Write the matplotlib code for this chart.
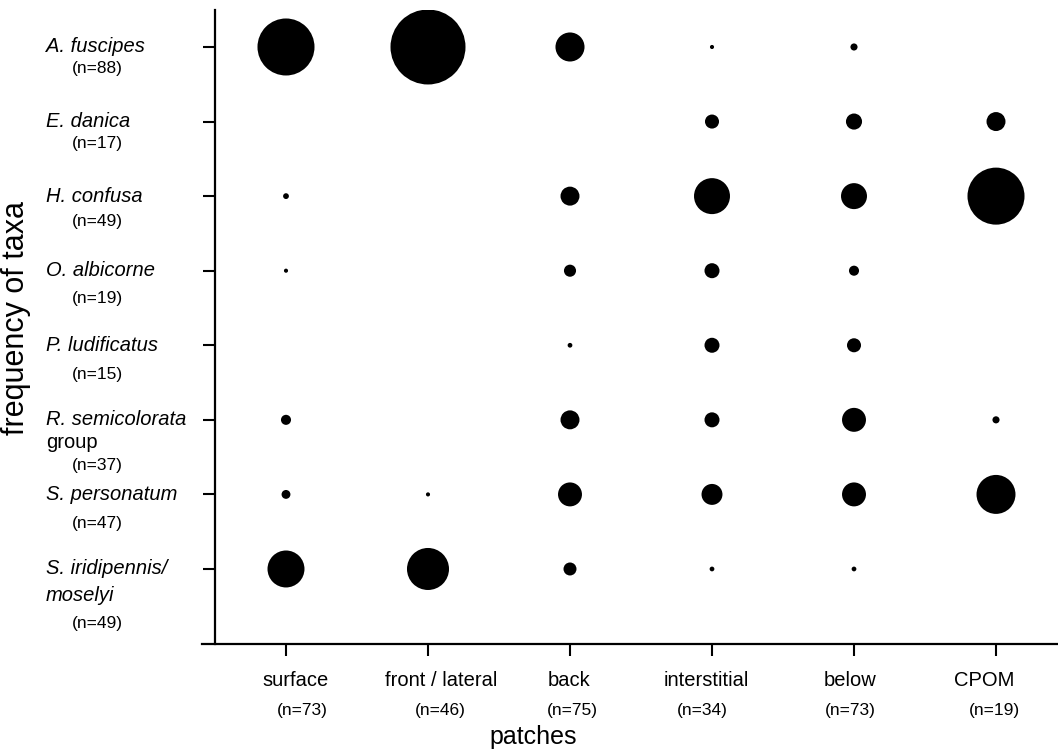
import numpy as np
import matplotlib
matplotlib.use("Agg")
import matplotlib.pyplot as plt
from matplotlib.transforms import blended_transform_factory, offset_copy

plt.rcParams['font.family'] = ['Liberation Sans', 'DejaVu Sans']

# patches (x) and taxa (y)
patches = ["surface", "front / lateral", "back", "interstitial", "below", "CPOM"]
patch_n = ["(n=73)", "(n=46)", "(n=75)", "(n=34)", "(n=73)", "(n=19)"]

taxa = [["A. fuscipes"], ["E. danica"], ["H. confusa"], ["O. albicorne"],
        ["P. ludificatus"], ["R. semicolorata", "group"], ["S. personatum"],
        ["S. iridipennis/", "moselyi"]]
taxa_italic = [[True], [True], [True], [True], [True], [True, False], [True], [True, True]]
taxa_n = ["(n=88)", "(n=17)", "(n=49)", "(n=19)", "(n=15)", "(n=37)", "(n=47)", "(n=49)"]

# relative frequency (bubble area), order: surface, front/lateral, back, interstitial, below, CPOM
a_fuscipes = [57.8, 100.0, 15.0, 0.3, 0.9, 0]
e_danica = [0, 0, 0, 3.5, 4.6, 6.4]
h_confusa = [0.6, 0, 6.4, 23.0, 12.0, 57.8]
o_albicorne = [0.3, 0, 2.6, 4.0, 1.8, 0]
p_ludificatus = [0, 0, 0.4, 4.0, 3.5, 0]
r_semicolorata = [1.8, 0, 6.4, 4.0, 10.2, 0.9]
s_personatum = [1.4, 0.3, 10.2, 7.8, 10.2, 27.0]
s_iridipennis = [24.3, 31.4, 3.0, 0.4, 0.4, 0]

freq = np.array([a_fuscipes, e_danica, h_confusa, o_albicorne, p_ludificatus,
                 r_semicolorata, s_personatum, s_iridipennis])

W, H = 1058, 753
fig = plt.figure(figsize=(W / 100, H / 100), dpi=100)
ax = fig.add_axes([202 / W, (H - 644) / H, (W - 202) / W, (644 - 10) / H])

xx, yy = np.meshgrid(np.arange(len(patches)), np.arange(len(taxa)))
mask = freq > 0
size_scale = 29.16  # pt^2 per unit
ax.scatter(xx[mask], yy[mask], s=freq[mask] * size_scale, c="black", linewidths=0)

ax.set_xlim(-0.5915, 5.4366)
ax.set_ylim(8.006, -0.496)

for s in ["top", "right"]:
    ax.spines[s].set_visible(False)
ax.spines["left"].set_position(("axes", 13 / 856))
ax.spines["left"].set_linewidth(1.6)
ax.spines["bottom"].set_linewidth(1.6)
ax.set_xticks(np.arange(len(patches)))
ax.set_yticks(np.arange(len(taxa)))
ax.set_xticklabels([])
ax.set_yticklabels([])
ax.tick_params(axis="both", direction="out", length=8.6, width=1.5, color="black")

# taxa labels on the left
ytr = blended_transform_factory(fig.transFigure, ax.transData)
line_dy = [0, 0, 0, 0, 0, 23, 0, 27]       # second line offset (px)
n_dy = [22, 22, 25, 28, 29, 46, 29, 55]     # n label offset (px)
for i, lines in enumerate(taxa):
    for k, line in enumerate(lines):
        tr = offset_copy(ytr, fig=fig, y=-line_dy[i] * k, units="dots")
        fig.text(46 / W, i, line, transform=tr, fontsize=14.5,
                 style="italic" if taxa_italic[i][k] else "normal",
                 ha="left", va="center")
    tr = offset_copy(ytr, fig=fig, y=-n_dy[i], units="dots")
    fig.text(72 / W, i, taxa_n[i], transform=tr, fontsize=12.5, ha="left", va="center")

# patch labels at the bottom
xtr = blended_transform_factory(ax.transData, fig.transFigure)
lab_dx = [10, 13, -1, -6, -4, -12]
n_dx = [16, 12, 2, -10, -4, -2]
for j, name in enumerate(patches):
    tr = offset_copy(xtr, fig=fig, x=lab_dx[j], units="dots")
    fig.text(j, 1 - 681 / H, name, transform=tr, fontsize=14.5, ha="center", va="center")
    tr = offset_copy(xtr, fig=fig, x=n_dx[j], units="dots")
    fig.text(j, 1 - 711 / H, patch_n[j], transform=tr, fontsize=12.5, ha="center", va="center")

fig.text(533 / W, 1 - 737 / H, "patches", fontsize=18, ha="center", va="center")
fig.text(16 / W, 1 - 318 / H, "frequency of taxa", fontsize=22, rotation=90,
         ha="center", va="center")

fig.savefig("out.png", dpi=100)
